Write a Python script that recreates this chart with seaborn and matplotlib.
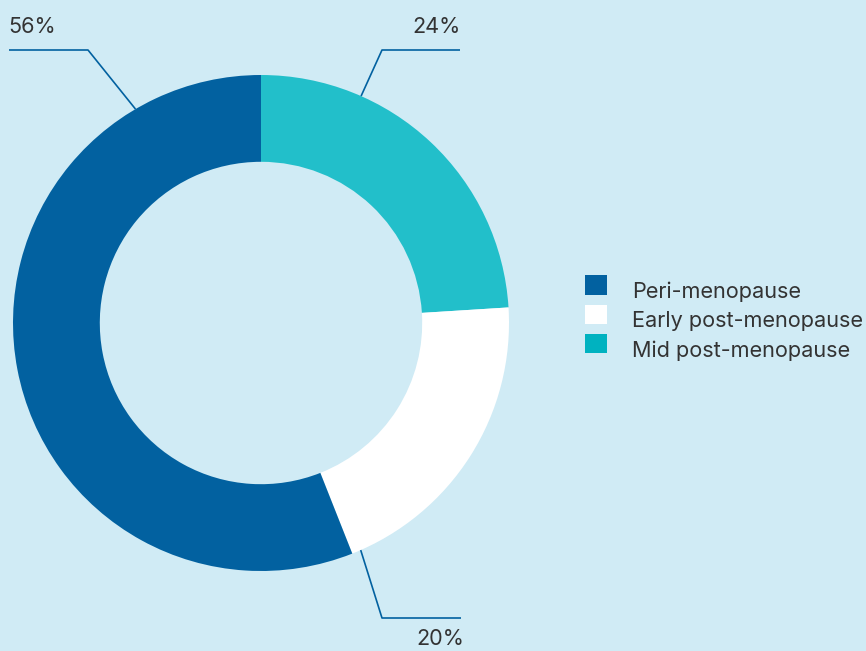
import matplotlib
matplotlib.use("Agg")
import matplotlib.pyplot as plt
import seaborn as sns
import numpy as np
from matplotlib.patches import Patch, Rectangle
from matplotlib.legend_handler import HandlerPatch

sns.set_theme(style="white")
plt.rcParams['font.family'] = ['Inter', 'DejaVu Sans']

# Data
categories = ["Peri-menopause", "Early post-menopause", "Mid post-menopause"]
values = [56, 20, 24]
labels = ["56%", "20%", "24%"]

# Styles
bg = "#d0ebf5"
slice_colors = ["#0261a0", "#ffffff", "#22bfca"]
legend_colors = ["#0261a0", "#ffffff", "#00b2c0"]
line_color = "#0261a0"
text_color = "#333333"
fs = 15.6

W, H = 866, 651
fig = plt.figure(figsize=(W / 100, H / 100), dpi=100, facecolor=bg)
ax = fig.add_axes([0, 0, 1, 1])
ax.set_facecolor(bg)

cx, cy, R = 261, 651 - 323, 248
# draw order clockwise from top: Mid, Early, Peri
order = [2, 1, 0]
ax.pie([values[i] for i in order], colors=[slice_colors[i] for i in order],
       startangle=90, counterclock=False, center=(cx, cy), radius=R,
       wedgeprops=dict(width=R * 0.35, linewidth=0), frame=True)
ax.set_xlim(0, W)
ax.set_ylim(0, H)
ax.set_aspect("auto")
ax.axis("off")

# leader lines: (angle deg, elbow (x,y px from top), end x, text x, text y, ha)
leaders = [
    (120.4, (88, 50), 9, 8, 27, "left", labels[0]),
    (66.2, (382, 50), 460, 461, 27, "right", labels[2]),
    (-66.3, (382, 618), 461, 464, 639, "right", labels[1]),
]
for ang, (ex, ey), endx, tx, ty, ha, lab in leaders:
    a = np.deg2rad(ang)
    sx, sy = cx + R * np.cos(a), cy + R * np.sin(a)
    ax.plot([sx, ex, endx], [sy, H - ey, H - ey], color=line_color, lw=1.2,
            solid_capstyle="butt")
    ax.text(tx, H - ty, lab, ha=ha, va="center", fontsize=fs, color=text_color)


def raised_square(legend, orig_handle, xdescent, ydescent, width, height, fontsize):
    return Rectangle((-xdescent, -ydescent + 4.0), width, height)


handles = [Patch(facecolor=c, edgecolor="none") for c in legend_colors]
leg = ax.legend(handles, categories, loc="upper left",
                bbox_to_anchor=(585 / W, 1 - 281 / H), frameon=False,
                fontsize=fs, handlelength=1.01, handleheight=1.01,
                handletextpad=1.15, labelspacing=0.37, borderpad=0,
                borderaxespad=0,
                handler_map={Patch: HandlerPatch(patch_func=raised_square)})
for t in leg.get_texts():
    t.set_color(text_color)

fig.savefig("out.png", dpi=100, facecolor=bg)
